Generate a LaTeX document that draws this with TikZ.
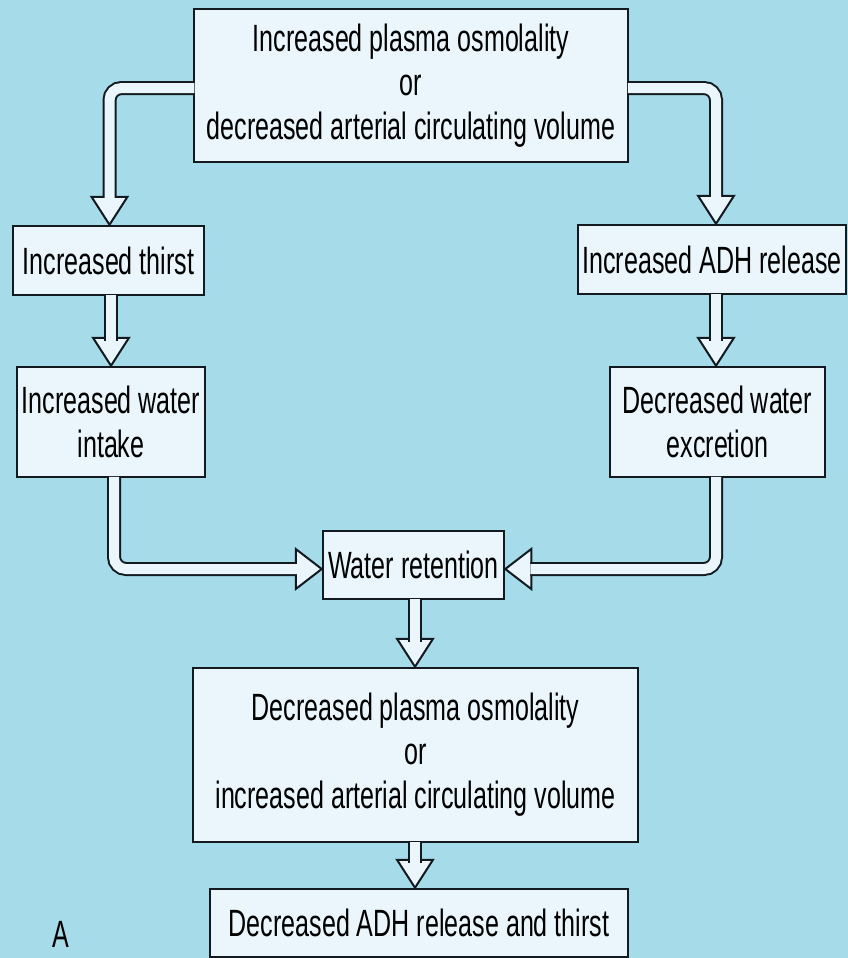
\documentclass[tikz,border=0pt]{standalone}
\usepackage{fontspec}
\setmainfont{Liberation Sans}[FakeStretch=0.66]
\usetikzlibrary{positioning,calc}
\definecolor{bgblue}{RGB}{166,219,234}
\definecolor{boxfill}{RGB}{234,246,251}
\definecolor{edgeline}{RGB}{18,26,32}
% hollow arrow heads, tip at the given point
\newcommand{\headdown}[1]{\draw[tip] (#1) -- ++(-18,-28) -- ++(36,0) -- cycle;}
\newcommand{\headright}[1]{\draw[tip] (#1) -- ++(-26,-20) -- ++(0,40) -- cycle;}
\newcommand{\headleft}[1]{\draw[tip] (#1) -- ++(26,-20) -- ++(0,40) -- cycle;}

\begin{document}
\begin{tikzpicture}[x=1pt, y=-1pt, every node/.style={font=\fontsize{38}{44}\selectfont}, box/.style={draw=edgeline, line width=2.5pt, fill=boxfill, align=center, inner sep=0pt}, stem/.style={draw=edgeline, line width=2pt, double=boxfill, double distance=10pt, rounded corners=12pt}, tip/.style={draw=edgeline, line width=2pt, fill=boxfill, line join=miter}]
\useasboundingbox (0,0) rectangle (848,958);
\fill[bgblue] (0,0) rectangle (848,958);
\node[box, minimum width=434pt, minimum height=153pt] (osmo) at (411,85.5) {Increased plasma osmolality\\or\\decreased arterial circulating volume};
\node[box, minimum width=191pt, minimum height=69pt] (thirst) at (108.5,260.5) {Increased thirst};
\node[box, minimum width=268pt, minimum height=69pt] (adh) at (712,259.5) {Increased ADH release};
\node[box, minimum width=188pt, minimum height=110pt] (intake) at (111,422) {Increased water\\intake};
\node[box, minimum width=215pt, minimum height=110pt] (excretion) at (717.5,422) {Decreased water\\excretion};
\node[box, minimum width=181pt, minimum height=68pt] (retention) at (413.5,565) {Water retention};
\node[box, minimum width=445pt, minimum height=174pt] (lowosmo) at (415.5,755) {Decreased plasma osmolality\\or\\increased arterial circulating volume};
\node[box, minimum width=418pt, minimum height=68pt] (final) at (419,923) {Decreased ADH release and thirst};
\node[anchor=base, inner sep=0pt, font=\fontsize{38}{44}\selectfont] (panel) at (61,947) {A};
% heads
\headdown{$(thirst.north)+(1,0)$}
\headdown{$(adh.north)+(4,0)$}
\headdown{intake.north}
\headdown{$(excretion.north)+(-1.5,0)$}
\headright{$(retention.west)+(0,4)$}
\headleft{$(retention.east)+(0,4)$}
\headdown{$(lowosmo.north)+(-0.5,0)$}
\headdown{$(final.north)+(-4,0)$}
% stems
\draw[stem] ($(osmo.west)+(1.5,2.5)$) -| ($(thirst.north)+(1,-27)$);
\draw[stem] ($(osmo.east)+(-1.5,2.5)$) -| ($(adh.north)+(4,-27)$);
\draw[stem] ($(thirst.south)+(2.5,-1.5)$) -- ($(intake.north)+(0,-25)$);
\draw[stem] ($(adh.south)+(4,-1.5)$) -- ($(excretion.north)+(-1.5,-25)$);
\draw[stem] ($(intake.south)+(3,-1.5)$) |- ($(retention.west)+(-25,4)$);
\draw[stem] ($(excretion.south)+(-1.5,-1.5)$) |- ($(retention.east)+(25,4)$);
\draw[stem] ($(retention.south)+(1.5,-1.5)$) -- ($(lowosmo.north)+(-0.5,-25)$);
\draw[stem] ($(lowosmo.south)+(-0.5,-1.5)$) -- ($(final.north)+(-4,-25)$);
\end{tikzpicture}
\end{document}
